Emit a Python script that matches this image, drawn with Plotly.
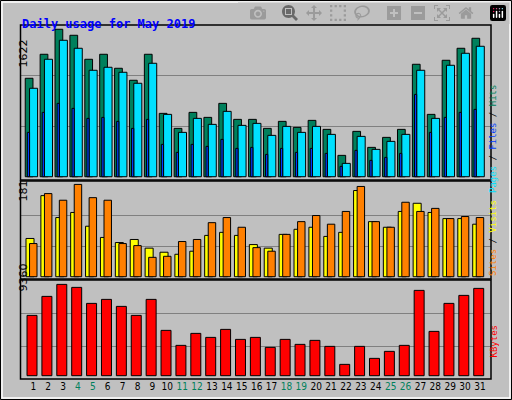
import plotly.graph_objects as go

days = list(range(1, 32))
weekend = [4, 5, 11, 12, 18, 19, 25, 26]
hits = [1083,1347,1622,1556,1292,1347,1193,1061,1347,697,532,708,653,807,631,631,
        532,609,543,620,521,235,499,323,433,521,1237,686,1281,1413,1523]
files = [973,1292,1501,1413,1171,1204,1149,1028,1248,686,488,642,576,719,565,587,
         455,554,488,554,466,147,444,301,389,466,1171,642,1226,1358,1435]
pages = [488,708,807,752,642,653,609,532,631,356,268,356,334,411,312,323,
         246,312,268,312,257,114,290,180,213,257,906,488,653,708,741]
visits = [75,159,116,126,99,77,67,73,56,48,44,50,81,87,81,63,
          56,83,93,97,79,87,169,108,97,128,144,126,114,114,103]
sites = [65,163,150,181,155,150,65,61,38,40,69,73,106,116,97,57,
         50,83,108,120,103,128,177,108,97,146,128,134,114,118,116]
kbytes = [6183,8130,9360,9053,7413,7823,7105,6183,7823,4646,3109,4338,3928,4748,3723,3928,
          2904,3723,3211,3621,3006,1161,3006,1776,2494,3109,8745,4543,7413,8233,8950]

W, H = 512, 400
L, R, T, B = 21, 21, 25, 21
ph = H - T - B
def dom(y0, y1):
    return [(H - B - y1) / ph, (H - B - y0) / ph]

line = dict(color="black", width=1)
fig = go.Figure()
def bar(y, color, off, w, ax):
    fig.add_trace(go.Bar(x=days, y=y, marker=dict(color=color, line=line),
                         offset=off, width=w, xaxis="x" + ax, yaxis="y" + ax,
                         showlegend=False, hoverinfo="skip"))
bar(hits, "#00805c", -0.54, 0.52, "")
bar(files, "#00e0ff", -0.25, 0.54, "")
bar(pages, "#0040ff", -0.40, 0.15, "")
bar(visits, "#ffff00", -0.49, 0.54, "2")
bar(sites, "#ff8000", -0.25, 0.50, "2")
bar(kbytes, "#ff0000", -0.42, 0.67, "3")

xr = [0.175, 31.74]
ticktext = [f"<span style='color:{'#00805c' if d in weekend else 'black'}'>{d}</span>" for d in days]
xbase = dict(range=xr, showgrid=False, zeroline=False, fixedrange=True)
grid = dict(showgrid=True, gridcolor="#808080", gridwidth=1, zeroline=False,
            showticklabels=False, ticks="")
fig.update_layout(
    width=W, height=H, margin=dict(l=L, r=R, t=T, b=B),
    paper_bgcolor="#c0c0c0", plot_bgcolor="#c0c0c0", barmode="overlay",
    xaxis=dict(**xbase, showticklabels=False, anchor="y"),
    xaxis2=dict(**xbase, showticklabels=False, anchor="y2"),
    xaxis3=dict(**xbase, anchor="y3", tickvals=days, ticktext=ticktext, ticks="",
                tickangle=0, automargin=False,
                tickfont=dict(family="DejaVu Sans Condensed", size=10, color="black")),
    yaxis=dict(domain=dom(25, 180), range=[-36, 1669], tickvals=[556, 1113], **grid),
    yaxis2=dict(domain=dom(181, 279), range=[-4.5, 187.7], tickvals=[59.6, 119.2], **grid),
    yaxis3=dict(domain=dom(280, 379), range=[-338, 9809], tickvals=[3013, 6396], **grid),
    font=dict(family="DejaVu Sans Mono"),
)

def px(x): return (x - L) / (W - L - R)
def py(y): return (H - B - y) / ph
shapes = []
for y0, y1 in [(25, 180), (181, 279), (280, 379)]:
    shapes.append(dict(type="rect", xref="paper", yref="paper", x0=px(20.5), x1=px(491),
                       y0=py(y1), y1=py(y0), line=dict(color="black", width=1.5)))
shapes.append(dict(type="rect", xref="paper", yref="paper", x0=px(0.5), x1=px(511.5),
                   y0=py(399.5), y1=py(0.5), line=dict(color="black", width=1)))
shapes.append(dict(type="rect", xref="paper", yref="paper", x0=px(2), x1=px(510),
                   y0=py(398), y1=py(2), line=dict(color="white", width=1.5)))
fig.update_layout(shapes=shapes)

ann = [
    dict(x=px(20), y=py(15), text="<b>Daily usage for May 2019</b>", xanchor="left",
         font=dict(family="DejaVu Sans Mono", size=12, color="#0000ff")),
    dict(x=px(14), y=py(38), text="1622", textangle=-90, font=dict(family="DejaVu Sans", size=11, color="black")),
    dict(x=px(14), y=py(191), text="181", textangle=-90, font=dict(family="DejaVu Sans", size=11, color="black")),
    dict(x=px(14), y=py(294), text="9360", textangle=-90, font=dict(family="DejaVu Sans", size=11, color="black")),
    dict(x=px(500), y=py(83), textangle=-90,
         text="<span style='color:#00e0ff'>Pages</span> / <span style='color:#0040ff'>Files</span> / <span style='color:#00805c'>Hits</span>",
         font=dict(family="DejaVu Sans Mono", size=9, color="black")),
    dict(x=px(500), y=py(238), textangle=-90,
         text="<span style='color:#ff8000'>Sites</span> / <span style='color:#ffff00'>Visits</span>",
         font=dict(family="DejaVu Sans Mono", size=9, color="black")),
    dict(x=px(500), y=py(360), textangle=-90, text="KBytes",
         font=dict(family="DejaVu Sans Mono", size=9, color="#ff0000")),
]
for a in ann:
    a.update(xref="paper", yref="paper", showarrow=False)
fig.update_layout(annotations=ann)
fig.write_html("out.html", post_script="document.body.style.margin='0';")
